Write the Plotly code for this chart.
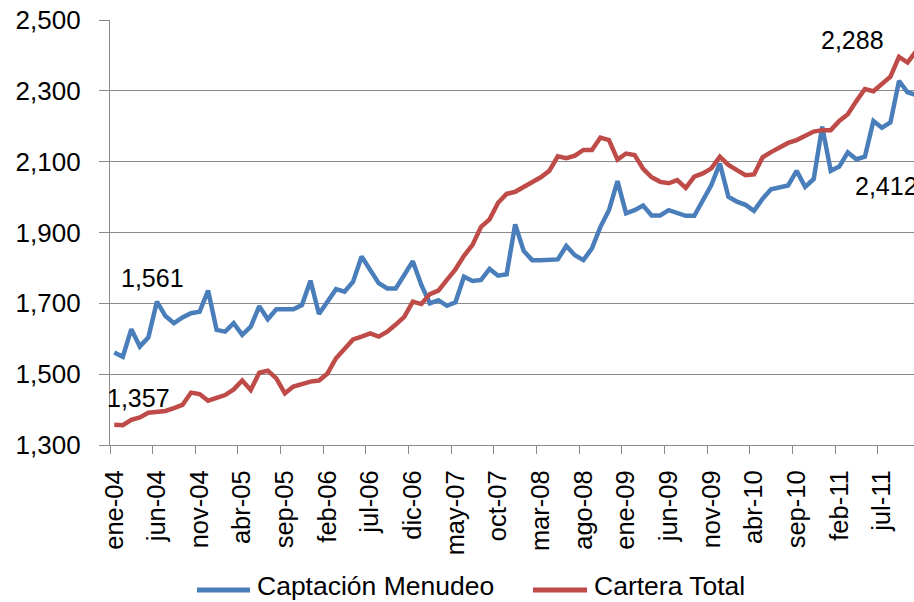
import plotly.graph_objects as go

# ---- data (monthly, ene-04 .. nov-11) ----
months_es = ["ene", "feb", "mar", "abr", "may", "jun", "jul", "ago", "sep", "oct", "nov", "dic"]
categories = [f"{months_es[m]}-{str(y)[2:]}" for y in range(2004, 2012) for m in range(12)][:95]

captacion_menudeo = [
    1561, 1549, 1627, 1578, 1604, 1705, 1664, 1644, 1660, 1672,
    1676, 1736, 1625, 1620, 1644, 1611, 1634, 1692, 1655, 1683,
    1683, 1683, 1695, 1764, 1670, 1705, 1740, 1733, 1761, 1832,
    1794, 1757, 1742, 1742, 1780, 1819, 1752, 1700, 1709, 1693,
    1703, 1775, 1763, 1766, 1797, 1778, 1782, 1923, 1848, 1822,
    1822, 1823, 1824, 1862, 1836, 1822, 1855, 1916, 1963, 2045,
    1954, 1963, 1976, 1948, 1948, 1963, 1954, 1947, 1947, 1992,
    2034, 2095, 2001, 1987, 1978, 1961, 1995, 2022, 2026, 2033,
    2074, 2029, 2051, 2199, 2074, 2086, 2126, 2107, 2114, 2215,
    2196, 2211, 2328, 2296, 2288,
]
cartera_total = [
    1357, 1356, 1371, 1378, 1391, 1394, 1396, 1404, 1413, 1448,
    1444, 1425, 1432, 1441, 1457, 1482, 1455, 1504, 1510, 1488,
    1446, 1465, 1472, 1479, 1482, 1502, 1545, 1573, 1598, 1606,
    1615, 1606, 1620, 1640, 1662, 1705, 1698, 1726, 1736, 1766,
    1796, 1834, 1865, 1916, 1937, 1984, 2009, 2015, 2029, 2040,
    2056, 2074, 2115, 2110, 2117, 2133, 2133, 2168, 2161, 2106,
    2123, 2119, 2080, 2056, 2043, 2039, 2048, 2026, 2058, 2067,
    2081, 2114, 2091, 2076, 2062, 2064, 2112, 2127, 2139, 2153,
    2161, 2173, 2185, 2189, 2189, 2215, 2234, 2271, 2305, 2299,
    2318, 2340, 2396, 2380, 2412,
]
tick_labels = ["ene-04", "jun-04", "nov-04", "abr-05", "sep-05", "feb-06", "jul-06",
               "dic-06", "may-07", "oct-07", "mar-08", "ago-08", "ene-09", "jun-09",
               "nov-09", "abr-10", "sep-10", "feb-11", "jul-11"]
y_ticks = [1300, 1500, 1700, 1900, 2100, 2300, 2500]

series_names = ["Captación Menudeo", "Cartera Total"]
colors = ["#4A7EBB", "#BE4B48"]

FONT = "Liberation Sans, Arial, sans-serif"
GRID = "#8A8A8A"

W, H = 914, 602
ML, MR, MT, MB = 110, 0, 20, 157
x_range = [-0.5, 93.76]

idx = list(range(len(categories)))
tick_idx = [categories.index(t) for t in tick_labels]

fig = go.Figure()
for name, vals, col in zip(series_names, [captacion_menudeo, cartera_total], colors):
    fig.add_trace(go.Scatter(x=idx, y=vals, mode="lines", name=name,
                             line=dict(color=col, width=4.5), showlegend=False,
                             text=categories))

# data labels
lab_font = dict(size=25, color="black", family=FONT)
fig.add_annotation(x=4.5, y=1772, text="1,561", showarrow=False, font=lab_font)
fig.add_annotation(x=2.8, y=1432, text="1,357", showarrow=False, font=lab_font)
fig.add_annotation(x=86.5, y=2444, text="2,288", showarrow=False, font=lab_font)
fig.add_annotation(x=86.6, y=2030, text="2,412", showarrow=False, xanchor="left",
                   font=lab_font)

# custom legend (pixel -> paper helpers)
def px_x(p):
    return (p - ML) / (W - ML - MR)

def px_y(p):
    return (H - MB - p) / (H - MT - MB)

legend_items = [(197, 250, 255), (533, 587, 592)]
for (x0, x1, tx), name, col in zip(legend_items, series_names, colors):
    fig.add_shape(type="line", xref="paper", yref="paper",
                  x0=px_x(x0), x1=px_x(x1), y0=px_y(590), y1=px_y(590),
                  line=dict(color=col, width=5))
    fig.add_annotation(xref="paper", yref="paper", x=px_x(tx), y=px_y(586),
                       text=name, showarrow=False, xanchor="left", yanchor="middle",
                       font=dict(size=26.5, color="black", family=FONT))

fig.update_layout(
    width=W, height=H,
    margin=dict(l=ML, r=MR, t=MT, b=MB, pad=0),
    paper_bgcolor="white", plot_bgcolor="white",
    font=dict(family=FONT, size=24, color="black"),
    showlegend=False,
)
fig.update_xaxes(
    range=x_range, showgrid=False, zeroline=False,
    showline=True, linecolor=GRID, linewidth=1.3,
    tickmode="array", tickvals=tick_idx, ticktext=tick_labels,
    tickangle=-90, ticks="", ticklabelstandoff=14,
    tickfont=dict(size=25.5, family=FONT, color="black"),
    minor=dict(tick0=-0.5, dtick=5, ticks="outside", ticklen=8,
               tickcolor=GRID, tickwidth=1.3, showgrid=False),
)
fig.update_yaxes(
    range=[1300, 2500], tickmode="array", tickvals=y_ticks,
    tickformat=",", showgrid=True, gridcolor=GRID, gridwidth=1.3,
    zeroline=False, showline=True, linecolor=GRID, linewidth=1.3,
    ticks="outside", ticklen=10, tickcolor=GRID, tickwidth=1.3,
    ticklabelstandoff=13,
    tickfont=dict(size=26, family=FONT, color="black"),
)

fig.write_html(
    "out.html",
    config={"displayModeBar": False},
    post_script="document.body.style.margin='0';document.body.style.overflow='hidden';",
)
